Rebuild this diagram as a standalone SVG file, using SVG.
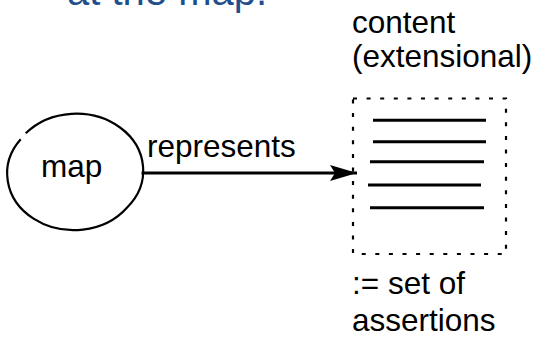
<svg xmlns="http://www.w3.org/2000/svg" width="537" height="338" viewBox="0 0 537 338">
  <style>
    .lbl { font-family: "Liberation Sans", Arial, sans-serif; font-size: 31.5px; fill: #000; }
    .title { font-family: "Liberation Sans", Arial, sans-serif; font-size: 40px; fill: #1f4e8c; }
    .outline { fill: none; stroke: #000; stroke-width: 2.2; }
    .dotted { fill: none; stroke: #000; stroke-width: 2.2; stroke-dasharray: 4 9.6; }
    .rule { stroke: #000; stroke-width: 3; stroke-linecap: butt; }
    .edge { fill: none; stroke: #000; stroke-width: 3; }
  </style>
  <defs>
    <marker id="arrowhead" markerUnits="userSpaceOnUse" markerWidth="30" markerHeight="20" refX="27" refY="8" orient="auto">
      <path d="M0,0 L27,8 L0,16 L5,8 Z" fill="#000"/>
    </marker>
  </defs>

  <!-- heading line, cut by the top edge -->
  <text class="title" x="67" y="5">at the map.</text>

  <!-- map node -->
  <g id="map">
    <path class="outline" d="M25.7,133.3 A65.3,55.5 0 0 1 126.9,207.7 A65.3,55.5 0 0 1 20.7,139.3"/>
    <text class="lbl" x="41" y="177">map</text>
  </g>

  <!-- content node: a set of assertions -->
  <g id="content">
    <text class="lbl" x="352" y="33">content</text>
    <text class="lbl" x="352" y="67">(extensional)</text>
    <rect class="dotted" x="353" y="98.5" width="153" height="155.5"/>
    <line class="rule" x1="373" y1="120.3" x2="486" y2="120.3"/>
    <line class="rule" x1="373" y1="141.7" x2="486" y2="141.7"/>
    <line class="rule" x1="370" y1="161.7" x2="484" y2="161.7"/>
    <line class="rule" x1="368" y1="185" x2="481" y2="185"/>
    <line class="rule" x1="370" y1="207.7" x2="484" y2="207.7"/>
    <text class="lbl" x="352" y="294">:= set of</text>
    <text class="lbl" x="352" y="331">assertions</text>
  </g>

  <!-- connectors -->
  <g id="connectors">
    <line class="edge" x1="141.5" y1="173" x2="357" y2="173" marker-end="url(#arrowhead)"/>
    <text class="lbl" x="147" y="157">represents</text>
  </g>
</svg>
